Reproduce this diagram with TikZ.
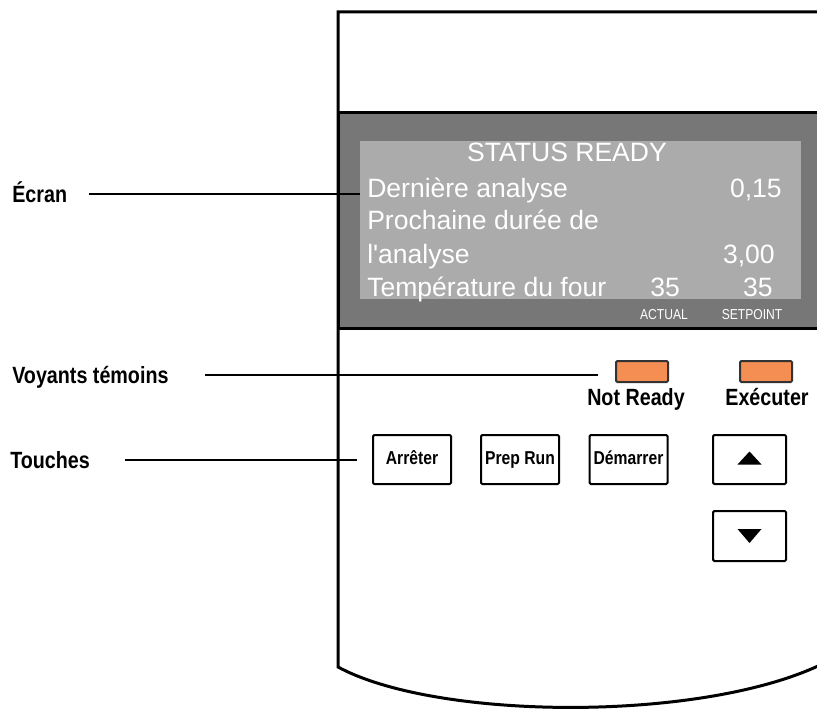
\documentclass[tikz,border=0pt]{standalone}
\usepackage{fontspec}
\usepackage{xcolor}
\usetikzlibrary{positioning,calc}
\setmainfont{Liberation Sans}
\newfontfamily\condfont[FakeStretch=0.84]{Liberation Sans}
\definecolor{PanelGrey}{RGB}{119,119,119}
\definecolor{ScreenGrey}{RGB}{171,171,171}
\definecolor{LampOrange}{RGB}{244,142,82}
\tikzset{
    labelnode/.style={anchor=base west, inner sep=0pt, text height=12pt, text depth=0pt,
        font=\condfont\bfseries\fontsize{17.6}{20}\selectfont},
    leader/.style={draw=black, line width=1.5pt},
    keynode/.style={rectangle, draw=black, line width=1.5pt, rounded corners=1pt,
        minimum width=58.5pt, minimum height=36.75pt, inner sep=0pt,
        text height=10pt, text depth=3pt,
        font=\condfont\bfseries\fontsize{14}{16}\selectfont}
}

\begin{document}
\begin{tikzpicture}[
        x=0.75pt, y=-0.75pt,
        % Style ecran: texte blanc sur gris clair
        screentext/.style={
            inner sep=0pt,
            text=white,
            font=\fontsize{19.9}{24}\selectfont
        },
        smalltext/.style={
            inner sep=0pt,
            anchor=base,
            text=white,
            font=\condfont\fontsize{10.8}{12}\selectfont
        },
        % Style voyant: orange, bord gris fonce
        lamp/.style={
            rectangle,
            fill=LampOrange,
            draw=black!80,
            line width=1.5pt,
            rounded corners=1pt,
            minimum width=39pt,
            minimum height=15.75pt
        },
        lamptext/.style={
            inner sep=0pt,
            anchor=base,
            font=\condfont\bfseries\fontsize{17.6}{20}\selectfont
        }
    ]
    \useasboundingbox (0,0) rectangle (817,710);
    % Boitier
    \draw[line width=2.25pt] (830,12) -- (338,12) -- (338,667)
        .. controls (440,722) and (715,722) .. (830,660);
    % Bandeau gris de l'ecran
    \filldraw[fill=PanelGrey, draw=black, line width=2.25pt] (338,112) rectangle (840,328);
    \node[rectangle, fill=ScreenGrey, minimum width=330.75pt, minimum height=118.5pt, inner sep=0pt]
        (screen) at (580.5,220) {};
    % Lignes de l'ecran
    \node[screentext, anchor=base] (status) at (567,161) {STATUS READY};
    \node[screentext, anchor=base west] (lastrun) at (367,197) {Dernière analyse};
    \node[screentext, anchor=base east] (lastval) at (782,197) {0,15};
    \node[screentext, anchor=base west] (nextrun) at (367,229) {Prochaine durée de};
    \node[screentext, anchor=base west] (nextrunb) at (367,263) {l\textquotesingle analyse};
    \node[screentext, anchor=base east] (nextval) at (775,263) {3,00};
    \node[screentext, anchor=base west] (oven) at (367,296) {Température du four};
    \node[screentext, anchor=base] (ovenact) at (665,296) {35};
    \node[screentext, anchor=base east] (ovenset) at (773,296) {35};
    \node[smalltext] (actual) at (664,319) {ACTUAL};
    \node[smalltext] (setpoint) at (752,319) {SETPOINT};
    % Voyants
    \node[lamp] (notready) at (642,371.5) {};
    \node[lamp] (run) at (766,371.5) {};
    \node[lamptext] (notreadytxt) at (636,405) {Not Ready};
    \node[lamptext] (runtxt) at (767,405) {Exécuter};
    % Touches
    \node[keynode] (stop) at (412,459.5) {Arrêter};
    \node[keynode] (prep) at (520,459.5) {Prep Run};
    \node[keynode] (start) at (628.5,459.5) {Démarrer};
    \node[keynode, minimum width=54.75pt] (up) at (749.5,459.5) {};
    \node[keynode, minimum width=54.75pt, minimum height=37.5pt] (down) at (749.5,536) {};
    \fill ($(up.center)+(0,-8)$) -- ($(up.center)+(12,5)$) -- ($(up.center)+(-12,5)$) -- cycle;
    \fill ($(down.center)+(0,7)$) -- ($(down.center)+(12,-7)$) -- ($(down.center)+(-12,-7)$) -- cycle;
    % Legendes
    \node[labelnode] (ecran) at (12,202) {Écran};
    \node[labelnode] (voyants) at (12,383) {Voyants témoins};
    \node[labelnode] (touches) at (10,468) {Touches};
    \draw[leader, shorten <=16.5pt] (ecran.east) -- (ecran.east -| screen.west);
    \draw[leader, line width=1.1pt, shorten <=27pt, shorten >=12.75pt]
        (voyants.east) -- (voyants.east -| notready.west);
    \draw[leader, shorten <=26pt, shorten >=11pt] (touches.east) -- (touches.east -| stop.west);
\end{tikzpicture}
\end{document}
